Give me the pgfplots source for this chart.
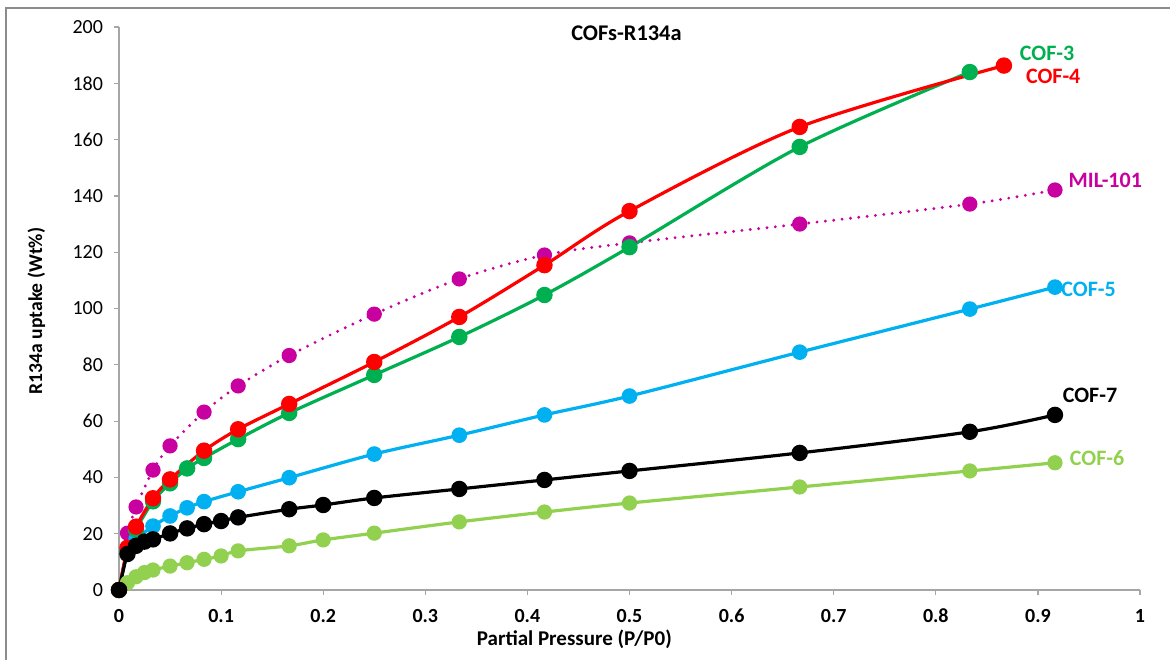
\documentclass[border=0pt]{standalone}
\usepackage{fontspec}
\setmainfont{Carlito}
\usepackage{pgfplots}
\pgfplotsset{compat=1.18}

\definecolor{cofthree}{RGB}{0,176,80}
\definecolor{coffour}{RGB}{255,0,0}
\definecolor{coffive}{RGB}{0,176,240}
\definecolor{cofsix}{RGB}{146,208,80}
\definecolor{milpink}{RGB}{200,0,160}
\definecolor{framegray}{RGB}{140,140,140}

\begin{document}
\begin{tikzpicture}
% page = 1170 x 660 px, 1 px = 0.5pt
\useasboundingbox (0pt,0pt) rectangle (585pt,330pt);
\draw[framegray, line width=1pt] (3pt,0pt) -- (3pt,326pt) -- (585pt,326pt);

\begin{axis}[
    at={(59.5pt,35pt)}, anchor=south west,
    scale only axis,
    width=510.5pt, height=281.5pt,
    xmin=0, xmax=1, ymin=0, ymax=200,
    xtick={0,0.1,...,1}, ytick={0,20,...,200},
    axis x line*=bottom, axis y line*=left,
    axis line style={-, draw=gray!70, line width=0.6pt},
    tick style={draw=gray!70, line width=0.6pt},
    tick align=outside, major tick length=2.5pt,
    /pgf/number format/assume math mode=true,
    xticklabel style={font=\bfseries\fontsize{10}{11}\selectfont, yshift=-3.5pt},
    yticklabel style={font=\fontsize{10}{11}\selectfont, xshift=-2pt},
    xlabel={Partial Pressure (P/P0)},
    ylabel={R134a uptake (Wt\%)},
    xlabel style={font=\bfseries\fontsize{10.5}{12}\selectfont, at={(axis description cs:0.446,-0.087)}, anchor=center},
    ylabel style={font=\bfseries\fontsize{9.8}{11}\selectfont, at={(axis description cs:-0.081,0.4956)}, anchor=center},
    clip=false,
    every axis plot/.append style={line width=1.6pt, mark=*, mark size=3.3pt, smooth, tension=0.5},
]
% MIL-101
\addplot[milpink, line cap=round, dash pattern=on 0pt off 4.2pt, mark options={solid, fill=milpink}, mark size=3pt] coordinates {
(0.0083,20.2) (0.0167,29.5) (0.0333,42.6) (0.05,51.2) (0.0833,63.2) (0.1167,72.5)
(0.1667,83.3) (0.25,98) (0.3333,110.5) (0.4167,119) (0.5,123.3) (0.6667,130)
(0.8333,137.1) (0.9167,142.1)};
% COF-6
\addplot[cofsix, mark options={fill=cofsix}, mark size=3pt] coordinates {
(0,0) (0.0083,2.6) (0.0167,4.7) (0.025,6.2) (0.0333,7.1) (0.05,8.5) (0.0667,9.7)
(0.0833,10.9) (0.1,12.1) (0.1167,13.9) (0.1667,15.7) (0.2,17.8) (0.25,20.2)
(0.3333,24.2) (0.4167,27.7) (0.5,30.9) (0.6667,36.6) (0.8333,42.3) (0.9167,45.2)};
% COF-5
\addplot[coffive, mark options={fill=coffive}, mark size=3.1pt] coordinates {
(0,0) (0.0083,14) (0.0167,18) (0.0333,22.7) (0.05,26.3) (0.0667,29.2) (0.0833,31.4)
(0.1167,34.9) (0.1667,39.9) (0.25,48.3) (0.3333,55) (0.4167,62.2) (0.5,68.9)
(0.6667,84.5) (0.8333,99.8) (0.9167,107.6)};
% COF-3
\addplot[cofthree, mark options={fill=cofthree}] coordinates {
(0,0) (0.0083,14) (0.0167,21.5) (0.0333,31.5) (0.05,37.9) (0.0667,43.2) (0.0833,46.9)
(0.1167,53.6) (0.1667,62.9) (0.25,76.4) (0.3333,89.9) (0.4167,104.8) (0.5,121.8)
(0.6667,157.4) (0.8333,184)};
% COF-4
\addplot[coffour, mark options={fill=coffour}] coordinates {
(0,0) (0.0083,15) (0.0167,22.5) (0.0333,32.6) (0.05,39.3) (0.0833,49.5) (0.1167,57.1)
(0.1667,66.1) (0.25,81) (0.3333,97) (0.4167,115.4) (0.5,134.6) (0.6667,164.5)
(0.8667,186.3)};
% COF-7
\addplot[black, mark options={fill=black}] coordinates {
(0,0) (0.0083,12.8) (0.0167,15.7) (0.025,17.2) (0.0333,18) (0.05,20.1) (0.0667,21.9)
(0.0833,23.4) (0.1,24.5) (0.1167,25.8) (0.1667,28.7) (0.2,30.2) (0.25,32.7)
(0.3333,35.9) (0.4167,39.1) (0.5,42.3) (0.6667,48.7) (0.8333,56.2) (0.9167,62.2)};

\node[font=\bfseries\fontsize{11.2}{13}\selectfont] at (axis cs:0.497,197.9) {COFs-R134a};
\node[font=\bfseries\fontsize{11}{13}\selectfont, text=cofthree] at (axis cs:0.909,190.8) {COF-3};
\node[font=\bfseries\fontsize{11}{13}\selectfont, text=coffour] at (axis cs:0.915,182.6) {COF-4};
\node[font=\bfseries\fontsize{11}{13}\selectfont, text=milpink] at (axis cs:0.966,145.6) {MIL-101};
\node[font=\bfseries\fontsize{11}{13}\selectfont, text=coffive, anchor=west, inner sep=0pt] at (axis cs:0.9226,106.9) {COF-5};
\node[font=\bfseries\fontsize{11}{13}\selectfont, text=black] at (axis cs:0.951,69.3) {COF-7};
\node[font=\bfseries\fontsize{11}{13}\selectfont, text=cofsix] at (axis cs:0.958,46.9) {COF-6};
\end{axis}
\end{tikzpicture}
\end{document}
